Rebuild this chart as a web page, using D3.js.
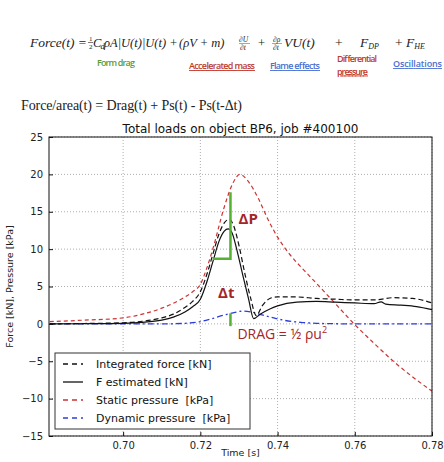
<!DOCTYPE html>
<html>
<head>
<meta charset="utf-8">
<script src="https://cdn.jsdelivr.net/npm/d3@7/dist/d3.min.js"></script>
<style>
  body { margin: 0; background: #fff; }
  svg { display: block; }
  text { white-space: pre; }
</style>
</head>
<body>
<div id="plot"></div>
<script>
// ---- data ----
var staticT = [0.681, 0.69, 0.70, 0.705, 0.71, 0.715, 0.718, 0.72, 0.7215, 0.7235, 0.726, 0.7285, 0.7302, 0.7325, 0.735, 0.7375, 0.740, 0.743, 0.747, 0.7512, 0.7555, 0.760, 0.765, 0.770, 0.775, 0.780];
var staticP = [0.3, 0.5, 0.8, 1.3, 2.1, 3.3, 4.3, 5.3, 7.2, 10.5, 15.3, 18.9, 20.0, 19.0, 16.8, 14.0, 11.6, 9.4, 7.1, 4.8, 2.4, -0.1, -2.6, -5.0, -7.1, -9.0];

var integT = [0.681, 0.69, 0.70, 0.705, 0.71, 0.713, 0.716, 0.718, 0.720, 0.7218, 0.7234, 0.7248, 0.7262, 0.7275, 0.7285, 0.730, 0.7315, 0.733, 0.7345, 0.736, 0.738, 0.740, 0.745, 0.750, 0.755, 0.760, 0.765, 0.770, 0.775, 0.780];
var integF = [0.0, 0.05, 0.15, 0.35, 0.8, 1.3, 2.2, 3.0, 4.3, 6.8, 9.6, 12.0, 13.5, 14.0, 13.3, 10.5, 6.8, 3.5, 1.1, 2.4, 3.4, 3.6, 3.6, 3.4, 3.3, 3.2, 3.2, 3.5, 3.4, 2.8];

var estT = [0.681, 0.69, 0.70, 0.705, 0.71, 0.713, 0.716, 0.718, 0.720, 0.7218, 0.7234, 0.7248, 0.7262, 0.7272, 0.7282, 0.7295, 0.731, 0.7325, 0.7338, 0.7355, 0.738, 0.740, 0.745, 0.750, 0.755, 0.760, 0.765, 0.7668, 0.768, 0.772, 0.776, 0.780];
var estF = [0.0, 0.02, 0.08, 0.2, 0.5, 0.9, 1.6, 2.3, 3.3, 5.8, 8.6, 11.0, 12.4, 12.7, 12.2, 9.8, 6.5, 3.3, 0.7, 1.3, 2.0, 2.4, 2.9, 3.0, 2.9, 2.8, 2.7, 2.95, 2.65, 2.5, 2.3, 1.9];

var dynT = [0.681, 0.70, 0.71, 0.715, 0.72, 0.723, 0.726, 0.729, 0.731, 0.733, 0.736, 0.739, 0.742, 0.746, 0.750, 0.755, 0.760, 0.780];
var dynP = [0.0, 0.0, 0.0, 0.05, 0.3, 0.7, 1.15, 1.55, 1.7, 1.6, 1.2, 0.8, 0.45, 0.2, 0.08, 0.02, 0.0, 0.0];

// green helper marks (delta P / delta t / drag)
var dpStepT = [0.7278, 0.7278, 0.7232];
var dpStepV = [17.6, 8.7, 8.7];
var dragMarkT = [0.7278, 0.7278];
var dragMarkV = [-0.3, 1.4];

var xTicks = [0.70, 0.72, 0.74, 0.76, 0.78];
var yTicks = [-15, -10, -5, 0, 5, 10, 15, 20, 25];

var legendLabels = ["Integrated force [kN]", "F estimated [kN]", "Static pressure  [kPa]", "Dynamic pressure  [kPa]"];

var width = 444, height = 462;
var svg = d3.select("#plot").append("svg").attr("width", width).attr("height", height);

// ---- formula header ----
var serif = "'Liberation Serif', 'DejaVu Serif', serif";
var fy = 47;
var f = svg.append("g").attr("font-family", serif).attr("font-style", "italic").attr("font-size", 12.5).attr("fill", "#222");
f.append("text").attr("x", 30).attr("y", fy).attr("font-size", 13.5).text("Force(t) =");
f.append("text").attr("x", 89).attr("y", fy - 6).attr("font-size", 7).attr("font-style", "normal").text("1");
f.append("text").attr("x", 89).attr("y", fy + 2).attr("font-size", 7).attr("font-style", "normal").text("2");
f.append("line").attr("x1", 88).attr("x2", 93).attr("y1", fy - 4.5).attr("y2", fy - 4.5).attr("stroke", "#222").attr("stroke-width", 0.6);
f.append("text").attr("x", 93).attr("y", fy).text("C");
f.append("text").attr("x", 100.5).attr("y", fy + 2).attr("font-size", 8.5).text("d");
f.append("text").attr("x", 104).attr("y", fy).text("ρA|U(t)|U(t) +");
f.append("text").attr("x", 179).attr("y", fy).text("(ρV + m)");
f.append("text").attr("x", 239).attr("y", fy - 5).attr("font-size", 7.5).text("∂U");
f.append("text").attr("x", 240).attr("y", fy + 3).attr("font-size", 7.5).text("∂t");
f.append("line").attr("x1", 239).attr("x2", 250).attr("y1", fy - 3.5).attr("y2", fy - 3.5).attr("stroke", "#222").attr("stroke-width", 0.4);
f.append("text").attr("x", 258).attr("y", fy).attr("font-style", "normal").text("+");
f.append("text").attr("x", 273).attr("y", fy - 5).attr("font-size", 7.5).text("∂ρ");
f.append("text").attr("x", 273).attr("y", fy + 3).attr("font-size", 7.5).text("∂t");
f.append("line").attr("x1", 272).attr("x2", 282).attr("y1", fy - 3.5).attr("y2", fy - 3.5).attr("stroke", "#222").attr("stroke-width", 0.4);
f.append("text").attr("x", 284).attr("y", fy).attr("font-size", 13.5).text("VU(t)");
f.append("text").attr("x", 335).attr("y", fy).attr("font-style", "normal").attr("font-size", 13.5).text("+");
var t2 = f.append("text").attr("x", 360).attr("y", fy).attr("font-size", 13.5);
t2.append("tspan").text("F");
t2.append("tspan").attr("font-size", 8).attr("dy", 2).text("DP");
var t3 = f.append("text").attr("x", 395).attr("y", fy).attr("font-size", 13.5);
t3.append("tspan").attr("font-style", "normal").text("+ ");
t3.append("tspan").text("F");
t3.append("tspan").attr("font-size", 8).attr("dy", 2).text("HE");

var lab = svg.append("g").attr("font-family", "'Open Sans', 'DejaVu Sans', sans-serif").attr("font-size", 9).attr("font-weight", 600);
lab.append("text").attr("x", 97).attr("y", 66).attr("fill", "#5a9a3a").attr("textLength", 38).text("Form drag");
lab.append("text").attr("x", 189).attr("y", 69).attr("fill", "#c0392b").attr("text-decoration", "underline").attr("textLength", 66).text("Accelerated mass");
lab.append("text").attr("x", 270).attr("y", 69).attr("fill", "#4a6fd0").attr("text-decoration", "underline").attr("textLength", 50).text("Flame effects");
lab.append("text").attr("x", 337).attr("y", 62).attr("fill", "#c0392b").attr("textLength", 40).text("Differential");
lab.append("text").attr("x", 337).attr("y", 74.5).attr("fill", "#c0392b").attr("text-decoration", "underline").attr("textLength", 31).text("pressure");
lab.append("text").attr("x", 393).attr("y", 67).attr("fill", "#4a6fd0").attr("text-decoration", "underline").attr("textLength", 49).text("Oscillations");

svg.append("text").attr("x", 21).attr("y", 110).attr("font-family", serif).attr("font-size", 14)
  .attr("fill", "#222").attr("textLength", 221).text("Force/area(t) = Drag(t) + Ps(t) - Ps(t-Δt)");

// ---- chart ----
var x = d3.scaleLinear().domain([0.6808, 0.78]).range([49, 432]);
var y = d3.scaleLinear().domain([-15, 25]).range([436, 137]);
var sans = "'DejaVu Sans', sans-serif";

// grid
svg.append("g").selectAll("line").data(xTicks).enter().append("line")
  .attr("x1", d => x(d)).attr("x2", d => x(d)).attr("y1", y(25)).attr("y2", y(-15))
  .attr("stroke", "#999").attr("stroke-width", 0.8).attr("stroke-dasharray", "1,2");
svg.append("g").selectAll("line").data(yTicks).enter().append("line")
  .attr("x1", x.range()[0]).attr("x2", x.range()[1]).attr("y1", d => y(d)).attr("y2", d => y(d))
  .attr("stroke", "#999").attr("stroke-width", 0.8).attr("stroke-dasharray", "1,2");

var line = d3.line().x(d => x(d[0])).y(d => y(d[1])).curve(d3.curveMonotoneX);
function pairs(ts, vs) { return ts.map((t, i) => [t, vs[i]]); }

var plot = svg.append("g");
plot.append("path").datum(pairs(dynT, dynP)).attr("d", line)
  .attr("fill", "none").attr("stroke", "#2b3fd8").attr("stroke-width", 1.3).attr("stroke-dasharray", "6,3,2,3");
plot.append("path").datum(pairs(staticT, staticP)).attr("d", line)
  .attr("fill", "none").attr("stroke", "#cc3333").attr("stroke-width", 1.2).attr("stroke-dasharray", "4,3");
plot.append("path").datum(pairs(integT, integF)).attr("d", line)
  .attr("fill", "none").attr("stroke", "#111").attr("stroke-width", 1.2).attr("stroke-dasharray", "5,3");
plot.append("path").datum(pairs(estT, estF)).attr("d", line)
  .attr("fill", "none").attr("stroke", "#111").attr("stroke-width", 1.2);

var straight = d3.line().x(d => x(d[0])).y(d => y(d[1]));
plot.append("path").datum(pairs(dpStepT, dpStepV)).attr("d", straight)
  .attr("fill", "none").attr("stroke", "#55b033").attr("stroke-width", 2.5);
plot.append("path").datum(pairs(dragMarkT, dragMarkV)).attr("d", straight)
  .attr("fill", "none").attr("stroke", "#55b033").attr("stroke-width", 2.5);

var ann = svg.append("g").attr("font-family", "'Open Sans', 'DejaVu Sans', sans-serif").attr("fill", "#a3262a");
ann.append("text").attr("x", x(0.7299)).attr("y", y(13.4)).attr("font-size", 15).attr("font-weight", "bold").text("ΔP");
ann.append("text").attr("x", x(0.7246)).attr("y", y(3.5)).attr("font-size", 15).attr("font-weight", "bold").text("Δt");
var dt = ann.append("text").attr("x", x(0.7296)).attr("y", y(-2.0)).attr("font-size", 14);
dt.append("tspan").text("DRAG = ½ ρu");
dt.append("tspan").attr("font-size", 9).attr("dy", -6).text("2");

// frame
svg.append("rect").attr("x", 49).attr("y", 137).attr("width", 383).attr("height", 299)
  .attr("fill", "none").attr("stroke", "#111").attr("stroke-width", 1);

// axes
var xAxis = svg.append("g").attr("transform", "translate(0,436)")
  .call(d3.axisBottom(x).tickValues(xTicks).tickFormat(d3.format(".2f")).tickSizeInner(-4).tickSizeOuter(0).tickPadding(6));
var yAxis = svg.append("g").attr("transform", "translate(49,0)")
  .call(d3.axisLeft(y).tickValues(yTicks).tickFormat(d => d < 0 ? "−" + Math.abs(d) : d).tickSizeInner(-4).tickSizeOuter(0).tickPadding(6));
[xAxis, yAxis].forEach(a => {
  a.select(".domain").remove();
  a.selectAll("text").attr("font-family", sans).attr("font-size", 10).attr("fill", "#222");
  a.selectAll("line").attr("stroke", "#111");
});

svg.append("text").attr("x", 240.5).attr("y", 133).attr("text-anchor", "middle")
  .attr("font-family", sans).attr("font-size", 12).attr("fill", "#111").text("Total loads on object BP6, job #400100");
svg.append("text").attr("x", 240.5).attr("y", 456).attr("text-anchor", "middle")
  .attr("font-family", sans).attr("font-size", 9.5).attr("fill", "#222").text("Time [s]");
svg.append("text").attr("transform", "translate(13,286.5) rotate(-90)").attr("text-anchor", "middle")
  .attr("font-family", sans).attr("font-size", 9.5).attr("fill", "#222").text("Force [kN], Pressure [kPa]");

// legend
var legendStyles = [
  { color: "#111", dash: "5,4" },
  { color: "#111", dash: null },
  { color: "#cc3333", dash: "5,4" },
  { color: "#2b3fd8", dash: "5,4" }
];
var leg = svg.append("g");
leg.append("rect").attr("x", 55).attr("y", 353).attr("width", 195).attr("height", 76)
  .attr("fill", "#fff").attr("stroke", "#333").attr("stroke-width", 1);
legendLabels.forEach((l, i) => {
  var cy = 364 + i * 18;
  leg.append("line").attr("x1", 63).attr("x2", 83).attr("y1", cy).attr("y2", cy)
    .attr("stroke", legendStyles[i].color).attr("stroke-width", 1.3)
    .attr("stroke-dasharray", legendStyles[i].dash);
  leg.append("text").attr("x", 96).attr("y", cy + 4).attr("font-family", sans).attr("font-size", 11)
    .attr("fill", "#111").text(l);
});
</script>
</body>
</html>
